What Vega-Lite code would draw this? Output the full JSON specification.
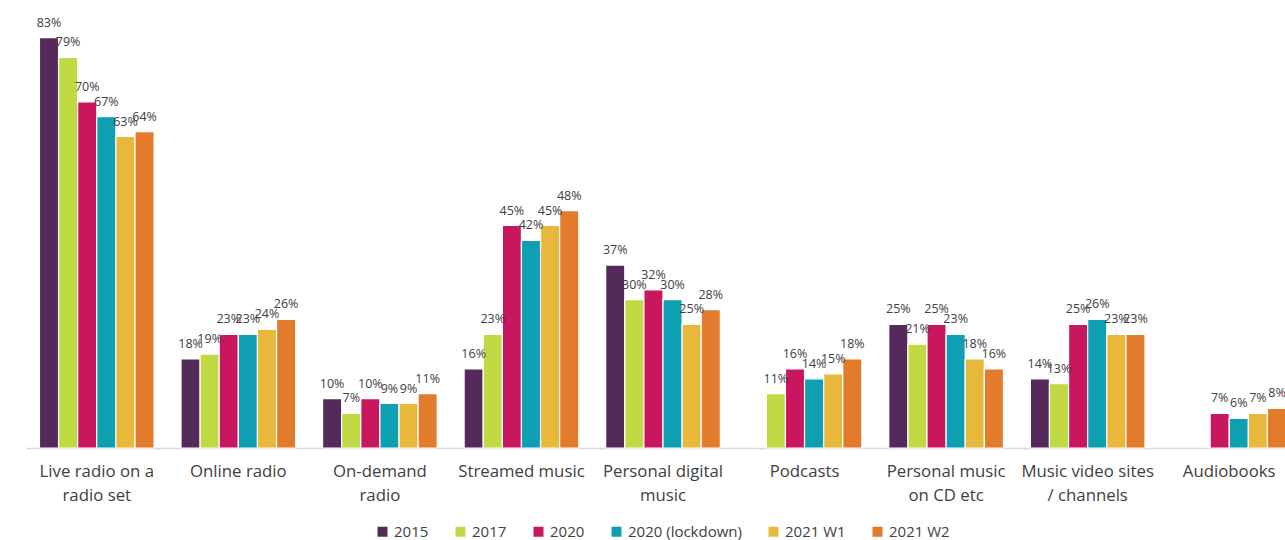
{
  "$schema": "https://vega.github.io/schema/vega-lite/v6.json",
  "width": 1274,
  "height": 445,
  "padding": {"left": 26, "top": 3, "right": 0, "bottom": 0},
  "background": "white",
  "config": {"view": {"stroke": null}, "font": "Open Sans"},
  "data": {"values": [
    {"category": "Live radio on a radio set", "series": "2015", "value": 83},
    {"category": "Live radio on a radio set", "series": "2017", "value": 79},
    {"category": "Live radio on a radio set", "series": "2020", "value": 70},
    {"category": "Live radio on a radio set", "series": "2020 (lockdown)", "value": 67},
    {"category": "Live radio on a radio set", "series": "2021 W1", "value": 63},
    {"category": "Live radio on a radio set", "series": "2021 W2", "value": 64},
    {"category": "Online radio", "series": "2015", "value": 18},
    {"category": "Online radio", "series": "2017", "value": 19},
    {"category": "Online radio", "series": "2020", "value": 23},
    {"category": "Online radio", "series": "2020 (lockdown)", "value": 23},
    {"category": "Online radio", "series": "2021 W1", "value": 24},
    {"category": "Online radio", "series": "2021 W2", "value": 26},
    {"category": "On-demand radio", "series": "2015", "value": 10},
    {"category": "On-demand radio", "series": "2017", "value": 7},
    {"category": "On-demand radio", "series": "2020", "value": 10},
    {"category": "On-demand radio", "series": "2020 (lockdown)", "value": 9},
    {"category": "On-demand radio", "series": "2021 W1", "value": 9},
    {"category": "On-demand radio", "series": "2021 W2", "value": 11},
    {"category": "Streamed music", "series": "2015", "value": 16},
    {"category": "Streamed music", "series": "2017", "value": 23},
    {"category": "Streamed music", "series": "2020", "value": 45},
    {"category": "Streamed music", "series": "2020 (lockdown)", "value": 42},
    {"category": "Streamed music", "series": "2021 W1", "value": 45},
    {"category": "Streamed music", "series": "2021 W2", "value": 48},
    {"category": "Personal digital music", "series": "2015", "value": 37},
    {"category": "Personal digital music", "series": "2017", "value": 30},
    {"category": "Personal digital music", "series": "2020", "value": 32},
    {"category": "Personal digital music", "series": "2020 (lockdown)", "value": 30},
    {"category": "Personal digital music", "series": "2021 W1", "value": 25},
    {"category": "Personal digital music", "series": "2021 W2", "value": 28},
    {"category": "Podcasts", "series": "2017", "value": 11},
    {"category": "Podcasts", "series": "2020", "value": 16},
    {"category": "Podcasts", "series": "2020 (lockdown)", "value": 14},
    {"category": "Podcasts", "series": "2021 W1", "value": 15},
    {"category": "Podcasts", "series": "2021 W2", "value": 18},
    {"category": "Personal music on CD etc", "series": "2015", "value": 25},
    {"category": "Personal music on CD etc", "series": "2017", "value": 21},
    {"category": "Personal music on CD etc", "series": "2020", "value": 25},
    {"category": "Personal music on CD etc", "series": "2020 (lockdown)", "value": 23},
    {"category": "Personal music on CD etc", "series": "2021 W1", "value": 18},
    {"category": "Personal music on CD etc", "series": "2021 W2", "value": 16},
    {"category": "Music video sites / channels", "series": "2015", "value": 14},
    {"category": "Music video sites / channels", "series": "2017", "value": 13},
    {"category": "Music video sites / channels", "series": "2020", "value": 25},
    {"category": "Music video sites / channels", "series": "2020 (lockdown)", "value": 26},
    {"category": "Music video sites / channels", "series": "2021 W1", "value": 23},
    {"category": "Music video sites / channels", "series": "2021 W2", "value": 23},
    {"category": "Audiobooks", "series": "2020", "value": 7},
    {"category": "Audiobooks", "series": "2020 (lockdown)", "value": 6},
    {"category": "Audiobooks", "series": "2021 W1", "value": 7},
    {"category": "Audiobooks", "series": "2021 W2", "value": 8}
  ]},
  "transform": [{"calculate": "datum.value + '%'", "as": "label"}],
  "encoding": {
    "x": {
      "field": "category", "type": "nominal", "sort": null,
      "scale": {"paddingInner": 0.19, "paddingOuter": 0.095},
      "axis": {
        "title": null, "labelAngle": 0, "ticks": false,
        "domainColor": "#d9d9d9", "domainWidth": 1.5,
        "labelFontSize": 16.8, "labelColor": "#404040", "labelPadding": 15, "labelLineHeight": 24,
        "labelFont": "Open Sans", "labelOverlap": false, "labelBound": false,
        "labelExpr": "datum.value == 'Live radio on a radio set' ? ['Live radio on a', 'radio set'] : datum.value == 'On-demand radio' ? ['On-demand', 'radio'] : datum.value == 'Personal digital music' ? ['Personal digital', 'music'] : datum.value == 'Personal music on CD etc' ? ['Personal music', 'on CD etc'] : datum.value == 'Music video sites / channels' ? ['Music video sites', '/ channels'] : datum.value"
      }
    },
    "xOffset": {"field": "series", "type": "nominal", "sort": ["2015", "2017", "2020", "2020 (lockdown)", "2021 W1", "2021 W2"], "scale": {"paddingInner": 0}},
    "y": {"field": "value", "type": "quantitative", "scale": {"domain": [0, 90], "nice": false}, "axis": null}
  },
  "layer": [
    {
      "mark": {"type": "bar", "stroke": "white", "strokeWidth": 1.2},
      "encoding": {
        "color": {
          "field": "series", "type": "nominal",
          "scale": {
            "domain": ["2015", "2017", "2020", "2020 (lockdown)", "2021 W1", "2021 W2"],
            "range": ["#532a5a", "#c1d942", "#c8175f", "#0f9fb3", "#e8b83a", "#e27b2b"]
          },
          "legend": {
            "title": null, "orient": "none", "legendX": 349, "legendY": 521, "direction": "horizontal",
            "symbolType": "square", "symbolSize": 100, "symbolStrokeWidth": 0,
            "labelFontSize": 15, "labelColor": "#404040", "labelFont": "Open Sans",
            "columnPadding": 24, "labelOffset": 4, "padding": 0
          }
        }
      }
    },
    {
      "mark": {"type": "text", "dy": -15, "fontSize": 12.5, "color": "#404040", "font": "Open Sans"},
      "encoding": {"text": {"field": "label", "type": "nominal"}}
    }
  ]
}
